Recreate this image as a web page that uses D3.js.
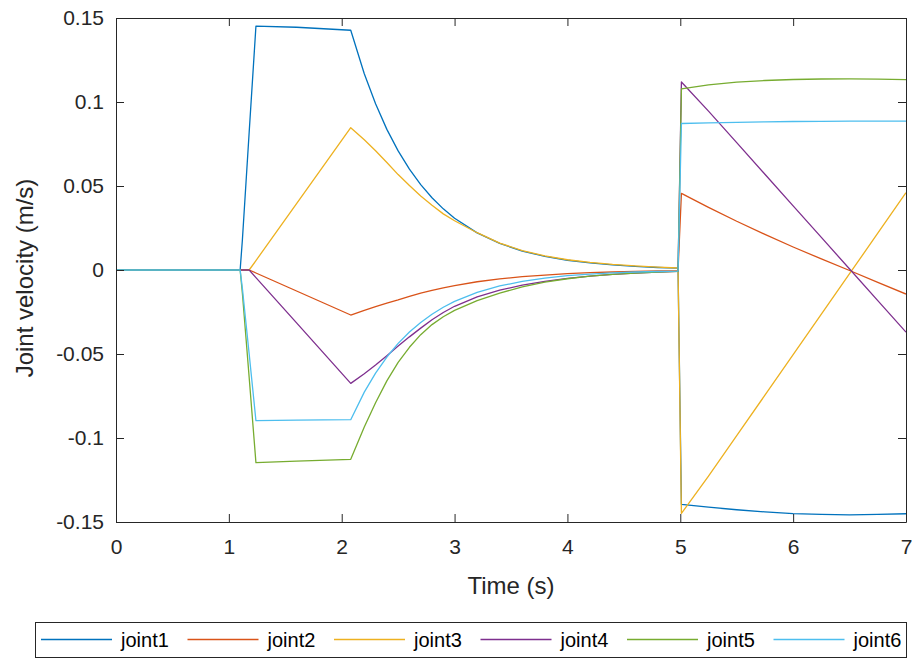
<!DOCTYPE html>
<html>
<head>
<meta charset="utf-8">
<script src="https://cdn.jsdelivr.net/npm/d3@7/dist/d3.min.js"></script>
<style>
  html, body { margin: 0; padding: 0; background: #ffffff; }
  svg { display: block; font-family: "Liberation Sans", Arial, sans-serif; }
</style>
</head>
<body>
<svg id="chart" width="912" height="659"></svg>
<script>
// Sample times (s)
const timeS = [0, 1.10, 1.12, 1.18, 1.24, 1.6, 2.08, 2.2, 2.3, 2.4, 2.5, 2.6, 2.7, 2.8, 2.9, 3.0,
  3.2, 3.4, 3.6, 3.8, 4.0, 4.2, 4.4, 4.6, 4.8, 4.98, 5.01, 5.25, 5.5, 5.75, 6.0, 6.25, 6.5, 6.75, 7.0];

// Joint velocities (m/s) at each sample time
const joint1 = [0, 0, 0.018, 0.082, 0.1452, 0.1445, 0.1427, 0.1168, 0.0989, 0.0837, 0.0709, 0.0600, 0.0508, 0.0430, 0.0364, 0.0308,
  0.0221, 0.0158, 0.0113, 0.0081, 0.0058, 0.0042, 0.0030, 0.0021, 0.0015, 0.0011, -0.1395, -0.1412, -0.1427, -0.1440, -0.1450, -0.1455, -0.1457, -0.1455, -0.1451];
const joint2 = [0, 0, 0, 0, -0.0018, -0.0125, -0.0268, -0.0240, -0.0218, -0.0197, -0.0178, -0.0157, -0.0137, -0.0121, -0.0106, -0.0093,
  -0.0070, -0.0053, -0.0040, -0.0030, -0.0022, -0.0016, -0.0012, -0.0009, -0.0006, -0.0004, 0.0456, 0.0373, 0.0290, 0.0212, 0.0137, 0.0066, -0.0003, -0.0074, -0.0143];
const joint3 = [0, 0, 0, 0, 0.0056, 0.0395, 0.0847, 0.0775, 0.0710, 0.0640, 0.0568, 0.0503, 0.0440, 0.0385, 0.0334, 0.0293,
  0.0222, 0.0160, 0.0116, 0.0084, 0.0061, 0.0045, 0.0033, 0.0024, 0.0017, 0.0012, -0.1449, -0.1227, -0.0986, -0.0745, -0.0504, -0.0263, -0.0022, 0.0219, 0.0460];
const joint4 = [0, 0, 0, 0, -0.0045, -0.0315, -0.0675, -0.0617, -0.0566, -0.0510, -0.0453, -0.0398, -0.0346, -0.0296, -0.0253, -0.0216,
  -0.0160, -0.0120, -0.0090, -0.0068, -0.0050, -0.0036, -0.0026, -0.0018, -0.0012, -0.0008, 0.1119, 0.0946, 0.0758, 0.0570, 0.0382, 0.0194, 0.0006, -0.0182, -0.0370];
const joint5 = [0, 0, -0.014, -0.064, -0.1147, -0.1138, -0.1127, -0.0935, -0.0790, -0.0660, -0.0550, -0.0460, -0.0385, -0.0325, -0.0278, -0.0240,
  -0.0182, -0.0138, -0.0100, -0.0072, -0.0052, -0.0037, -0.0026, -0.0018, -0.0012, -0.0008, 0.1078, 0.1102, 0.1118, 0.1128, 0.1134, 0.1137, 0.1138, 0.1136, 0.1133];
const joint6 = [0, 0, -0.011, -0.050, -0.0897, -0.0894, -0.0891, -0.0727, -0.0614, -0.0518, -0.0437, -0.0369, -0.0312, -0.0263, -0.0222, -0.0187,
  -0.0133, -0.0095, -0.0068, -0.0048, -0.0034, -0.0025, -0.0017, -0.0012, -0.0009, -0.0007, 0.0872, 0.0876, 0.0879, 0.0882, 0.0884, 0.0885, 0.0886, 0.0886, 0.0886];

const seriesNames = ["joint1", "joint2", "joint3", "joint4", "joint5", "joint6"];
const seriesColors = ["#0072BD", "#D95319", "#EDB120", "#7E2F8E", "#77AC30", "#4DBEEE"];

const xTicks = [0, 1, 2, 3, 4, 5, 6, 7];
const xTickLabels = ["0", "1", "2", "3", "4", "5", "6", "7"];
const yTicks = [-0.15, -0.1, -0.05, 0, 0.05, 0.1, 0.15];
const yTickLabels = ["-0.15", "-0.1", "-0.05", "0", "0.05", "0.1", "0.15"];

const xLabel = "Time (s)";
const yLabel = "Joint velocity (m/s)";

// ---- layout ----
const plot = { left: 116, right: 906, top: 18, bottom: 522 };
const axisColor = "#262626";

const svg = d3.select("#chart");
const x = d3.scaleLinear().domain([0, 7]).range([plot.left, plot.right]);
const y = d3.scaleLinear().domain([-0.15, 0.15]).range([plot.bottom, plot.top]);

svg.append("rect").attr("x", 0).attr("y", 0).attr("width", 912).attr("height", 659).attr("fill", "#ffffff");

svg.append("defs").append("clipPath").attr("id", "plotClip")
  .append("rect")
  .attr("x", plot.left).attr("y", plot.top)
  .attr("width", plot.right - plot.left).attr("height", plot.bottom - plot.top);

// ---- series lines ----
const allSeries = [joint1, joint2, joint3, joint4, joint5, joint6];
const line = d3.line()
  .x((d, i) => x(timeS[i]))
  .y(d => y(d))
  .curve(d3.curveLinear);

const lines = svg.append("g").attr("clip-path", "url(#plotClip)");
allSeries.forEach((vals, k) => {
  lines.append("path")
    .datum(vals)
    .attr("d", line)
    .attr("fill", "none")
    .attr("stroke", seriesColors[k])
    .attr("stroke-width", 1.3)
    .attr("stroke-linejoin", "round");
});

// ---- axes (inward ticks on all four sides) ----
const tickLen = 8;
const fontTick = 21;

function styleAxis(g) {
  g.selectAll(".domain").attr("stroke", axisColor).attr("stroke-width", 1);
  g.selectAll(".tick line").attr("stroke", axisColor).attr("stroke-width", 1);
  g.selectAll(".tick text").attr("fill", axisColor).attr("font-size", fontTick)
    .attr("font-family", "'Liberation Sans', Arial, sans-serif");
}

svg.append("g")
  .attr("transform", `translate(0,${plot.bottom})`)
  .call(d3.axisBottom(x).tickValues(xTicks).tickFormat((d, i) => xTickLabels[i])
    .tickSizeInner(-tickLen).tickSizeOuter(0).tickPadding(17))
  .call(styleAxis);

svg.append("g")
  .attr("transform", `translate(0,${plot.top})`)
  .call(d3.axisTop(x).tickValues(xTicks).tickFormat("")
    .tickSizeInner(-tickLen).tickSizeOuter(0))
  .call(styleAxis);

svg.append("g")
  .attr("transform", `translate(${plot.left},0)`)
  .call(d3.axisLeft(y).tickValues(yTicks).tickFormat((d, i) => yTickLabels[i])
    .tickSizeInner(-tickLen).tickSizeOuter(0).tickPadding(12))
  .call(styleAxis);

svg.append("g")
  .attr("transform", `translate(${plot.right},0)`)
  .call(d3.axisRight(y).tickValues(yTicks).tickFormat("")
    .tickSizeInner(-tickLen).tickSizeOuter(0))
  .call(styleAxis);

// ---- axis titles ----
svg.append("text")
  .attr("x", (plot.left + plot.right) / 2)
  .attr("y", 594)
  .attr("text-anchor", "middle")
  .attr("font-size", 24)
  .attr("fill", axisColor)
  .text(xLabel);

svg.append("text")
  .attr("transform", `translate(33,${(plot.top + plot.bottom) / 2 + 8}) rotate(-90)`)
  .attr("text-anchor", "middle")
  .attr("font-size", 24)
  .attr("fill", axisColor)
  .text(yLabel);

// ---- legend ----
const legend = { left: 35, top: 622, width: 871, height: 35, step: 146.5, lineStart: 6, lineLen: 71, textGap: 9 };
const lg = svg.append("g");
lg.append("rect")
  .attr("x", legend.left + 0.5).attr("y", legend.top + 0.5)
  .attr("width", legend.width).attr("height", legend.height)
  .attr("fill", "#ffffff").attr("stroke", axisColor).attr("stroke-width", 1);

seriesNames.forEach((name, k) => {
  const x0 = legend.left + legend.lineStart + k * legend.step;
  const cy = legend.top + legend.height / 2;
  lg.append("line")
    .attr("x1", x0).attr("x2", x0 + legend.lineLen)
    .attr("y1", cy).attr("y2", cy)
    .attr("stroke", seriesColors[k]).attr("stroke-width", 1.6);
  lg.append("text")
    .attr("x", x0 + legend.lineLen + legend.textGap)
    .attr("y", cy)
    .attr("dy", "0.35em")
    .attr("font-size", 20)
    .attr("fill", "#000000")
    .text(name);
});
</script>
</body>
</html>
